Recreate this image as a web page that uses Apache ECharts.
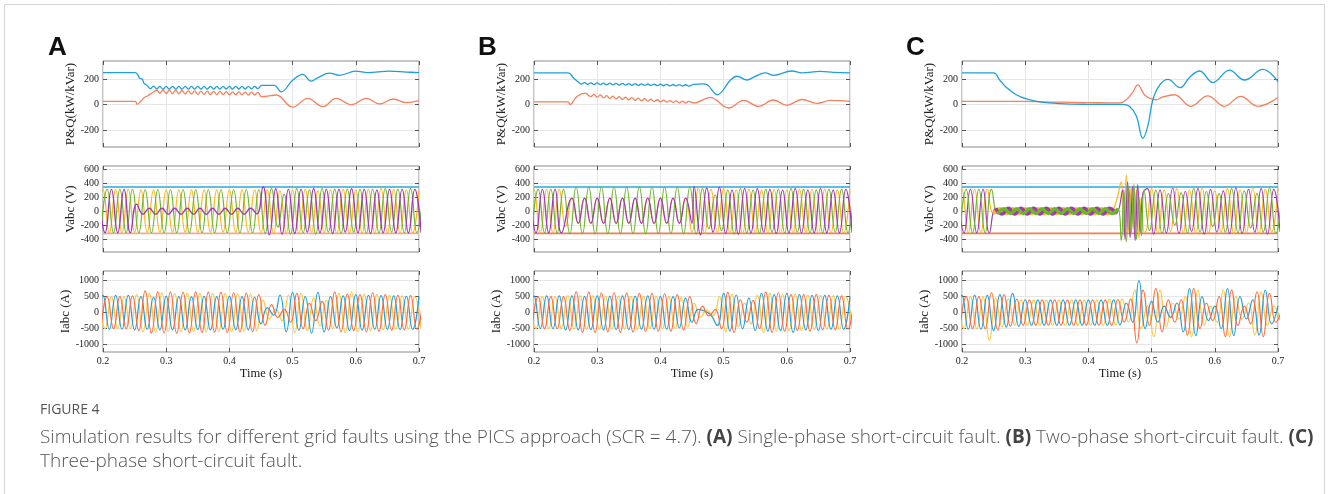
<!DOCTYPE html>
<html><head><meta charset="utf-8">
<script src="https://cdn.jsdelivr.net/npm/echarts@6/dist/echarts.min.js"></script>
<style>html,body{margin:0;padding:0;background:#fff}#c{width:1328px;height:494px}</style>
</head><body><div id="c"></div><script>
// ---------- axis / tick data ----------
const timeTicks = ['0.2','0.3','0.4','0.5','0.6','0.7'];
const pqTicks = [-200, 0, 200];
const vTicks = [-400, -200, 0, 200, 400, 600];
const iTicks = [-1000, -500, 0, 500, 1000];
const panelLetters = ['A', 'B', 'C'];
const yNames = ['P&Q(kW/kVar)', 'Vabc (V)', 'Iabc (A)'];

// grid start times of the three phase sequences (half-period spacing 0.01 s)
const PH1_T0 = 0.19, PH2_T0 = 0.19667, PH3_T0 = 0.19333;
const HALF = 0.01, RIP = 0.005, CHAT = 0.004;

// ---------- P & Q (kW / kVar) ----------
const pA_head = [[0.2,249],[0.251,249],[0.255,232],[0.258,205],[0.262,200],[0.265,166],[0.27,150]];
const pA_ripple = [125,145,122,143,120,142,121,143,121,142,120,143,121,142,121,143,121,142,121,143,121,142,121,143,122,142,121,143,122,142,122,143,123,142,125];
const pA_tail = [[0.451,150],[0.471,150],[0.482,100],[0.5,190],[0.516,236],[0.529,183],[0.542,215],[0.558,246],[0.574,228],[0.6,261],[0.619,249],[0.653,261],[0.68,254],[0.7,249]];
const qA_head = [[0.2,26],[0.251,26],[0.254,2],[0.261,33],[0.266,57],[0.272,72],[0.279,95]];
const qA_ripple = [112,88,114,86,113,85,112,84,110,83,108,82,107,80,106,80,105,79,104,78,103,78,102,77,100,77,99,76,98,75,97,75,95];
const qA_tail = [[0.451,62],[0.474,75],[0.5,-20],[0.524,49],[0.548,-16],[0.569,49],[0.593,0],[0.617,49],[0.638,5],[0.659,44],[0.68,15],[0.7,31]];

const pB_head = [[0.2,248],[0.254,248],[0.263,205],[0.271,172]];
const pB_ripple = [160,172,158,170,157,169,156,168,155,167,154,166,153,165,152,164,151,163,150,162,150,161,149,160,148,159,147,158,146,157,146,156,145,155,145];
const pB_tail = [[0.453,158],[0.466,162],[0.474,155],[0.49,77],[0.511,192],[0.521,221],[0.537,192],[0.55,221],[0.566,248],[0.579,228],[0.608,262],[0.624,248],[0.653,259],[0.674,252],[0.7,248]];
const qB_head = [[0.2,21],[0.254,21],[0.257,0],[0.268,64],[0.282,90]];
const qB_ripple = [78,62,80,58,75,52,70,48,66,45,62,40,58,37,54,34,50,30,46,27,42,24,38,22,35,19,32,17,30,14,28,12,25];
const qB_tail = [[0.453,13],[0.479,56],[0.508,-26],[0.532,33],[0.555,-13],[0.579,36],[0.6,-5],[0.624,40],[0.648,10],[0.669,33],[0.7,25]];

const pC = [[0.2,248],[0.25,248],[0.2596,192],[0.27,136],[0.286,77],[0.302,44],[0.323,21],[0.354,8],[0.396,3],[0.454,2],[0.465,-13],[0.476,-90],[0.486,-262],[0.494,-167],[0.502,38],[0.513,154],[0.526,197],[0.545,133],[0.561,218],[0.576,262],[0.597,172],[0.623,269],[0.647,192],[0.676,274],[0.7,179]];
const qC = [[0.2,26],[0.3,25],[0.35,20],[0.4,16],[0.45,13],[0.46,38],[0.47,95],[0.478,154],[0.4886,77],[0.4966,51],[0.507,38],[0.517,59],[0.536,77],[0.562,-13],[0.589,69],[0.615,-13],[0.641,64],[0.668,-13],[0.7,56]];

// ---------- voltages (V): successive half-cycle extremes ----------
const vLimHi = 345, vLimLo = -318;
const vA_1 = [-310,310,-310,310,-310,310, -300,300,-300,300,-300,300,-300,300,-300,300,-300,300,-300,300,-300,300,-300,300,-300,300, -310,300,-320,290,-310,300,-320,310,-300,290,-310,300,-320,310,-310,300,-310,310,-310,320,-310,310,-310,300,-310,310];
const vA_2 = [-310,310,-310,310,-310,310, -310,305,-310,305,-310,305,-310,305,-310,305,-310,305,-310,305,-310,305,-310,305,-310,305, -320,320,-230,240,-330,320,-310,300,-330,320,-300,310,-320,310,-300,310,-320,310,-310,320,-300,310,-310,320,-310,310];
const vA_3 = [310,-310,310,-310,310,-310, 100,-45,40,-45,40,-45,40,-45,40,-45,40,-45,40,-45,40,-45,40,-45,40,-40, 350,-340,320,-330,310,-320,310,-300,320,-310,310,-320,310,-300,320,-310,310,-320,300,-310,310,-310,310,-310,310,-310];

const vB_1 = [-310,310,-310,310,-310,310, -220,185,-175,185,-175,185,-175,185,-175,185,-175,185,-175,185,-175,185,-175,185,-175,185, -300,330,-320,310,-300,320,-310,300,-320,310,-310,300,-310,310,-320,300,-310,310,-300,310,-320,310,-310,300,-310,310];
const vB_2 = [-310,310,-310,310,-310,310, -325,345,-325,345,-325,345,-325,345,-325,345,-325,345,-325,345,-325,345,-325,345,-325,345, -330,320,-250,230,-280,300,-330,320,-310,300,-320,310,-300,310,-310,320,-300,310,-310,300,-310,310,-300,310,-310,310];
const vB_3_pre = [310,-310,310,-310,310,-310];
const vB_3_fault_t0 = 0.26;
const vB_3_fault = [185,-175,185,-175,185,-175,185,-175,185,-175,185,-175,185,-175,185,-175,185,-175,185,-175];
const vB_3_post_t0 = 0.45333;
const vB_3_post = [350,-340,330,-300,340,-320,300,-330,320,-310,320,-300,310,-320,300,-310,320,-310,300,-310,320,-310,300,-310,310,-310];

const vC_1_pre = [-310,310,-310,310,-310,310];
const vC_1_fault_t0 = 0.25;
const vC_1_fault = [-40,35,-35,35,-35,35,-35,35,-35,35,-35,35,-35,35,-35,35,-35,35,-35,35];
const vC_1_chat_t0 = 0.452;
const vC_1_chat = [420,-350,520,-300,350,-250,300,-380,200,-300];
const vC_1_post_t0 = 0.49;
const vC_1_post = [-300,320,-310,300,-290,320,-310,300,-320,330,-310,290,-300,320,-320,300,-310,330,-320,310,-300,320];
const vC_2_pre = [-310,310,-310,310,-310,310];
const vC_2_fault_t0 = 0.25667;
const vC_2_fault = [-40,35,-35,35,-35,35,-35,35,-35,35,-35,35,-35,35,-35,35,-35,35,-35,35];
const vC_2_chat_t0 = 0.452;
const vC_2_chat = [-420,300,-440,350,-300,380,-400,200,-350,300];
const vC_2_post_t0 = 0.49667;
const vC_2_post = [-280,300,-320,250,-200,260,-310,320,-300,280,-220,250,-300,320,-310,290,-240,250,-300,330,-320,300];
const vC_3_pre = [310,-310,310,-310,310,-310];
const vC_3_fault_t0 = 0.25333;
const vC_3_fault = [40,-40,40,-40,40,-40,40,-40,40,-40,40,-40,40,-40,40,-40,40,-40,40,-40];
const vC_3_chat_t0 = 0.454;
const vC_3_chat = [300,-400,420,-380,350,-420,380,-300,250];
const vC_3_post_t0 = 0.49333;
const vC_3_post = [320,-330,300,-310,330,-320,280,-290,320,-330,310,-300,290,-320,330,-320,310,-300,320,-330,310,-300];

// ---------- currents (A): successive half-cycle extremes ----------
const iA_1 = [-520,540,-520,540,-520,540, -540,500,-520,480,-540,510,-530,500,-540,490,-530,510,-540,500,-520,510,-530,500,-540,480, -350,150,-80,550,-600,630,-550,500,-640,630,-600,500,-480,520,-560,560,-550,540,-520,530,-520,520,-530,510,-520,500];
const iA_2 = [-500,500,-500,500,-500,520, -560,680,-640,650,-630,640,-650,630,-630,650,-620,640,-610,630,-620,620,-600,610,-600,560, -400,250,-150,100,-300,600,-500,300,-250,350,-550,640,-600,580,-560,560,-600,620,-580,560,-550,540,-540,530,-520,510];
const iA_3 = [500,-500,500,-500,500,-500, 560,-600,600,-600,620,-590,600,-600,610,-590,600,-600,600,-590,600,-590,590,-580,580,-560, 380,-200,100,-250,550,-620,600,-560,450,-420,380,-500,600,-620,640,-600,580,-560,560,-540,540,-520,520,-510,500,-500];

const iB_1 = [-500,520,-500,520,-500,520, -540,520,-540,500,-530,520,-540,510,-530,520,-530,510,-520,520,-520,500,-520,500,-480,450, -300,100,50,-80,-400,600,-580,550,-500,450,-560,600,-580,560,-560,600,-620,560,-540,540,-560,540,-520,520,-520,500];
const iB_2 = [-500,500,-500,500,-500,500, -560,650,-620,640,-620,620,-600,620,-620,610,-600,600,-590,600,-580,590,-580,560,-540,500, -350,200,-100,100,-500,630,-620,400,-300,380,-500,640,-620,620,-580,560,-560,560,-580,560,-540,540,-530,520,-520,500];
const iB_3 = [500,-500,500,-500,500,-500, 520,-520,520,-520,520,-520,510,-510,510,-510,510,-520,510,-500,500,-500,500,-500,480,-450, 300,-150,80,-100,500,-600,580,-450,300,-350,550,-620,600,-580,560,-560,580,-560,540,-540,540,-520,520,-520,500,-500];

const iC_1 = [-520,540,-520,540,-520,540, -560,560,-450,600,-430,410,-400,400,-400,400,-400,400,-400,400,-400,400,-400,400,-400,400, -380,300,-300,1000,-500,350,-300,200,-150,300,-600,750,-720,500,-250,200,-500,750,-720,500,-200,400,-700,700,-350,200];
const iC_2 = [-500,500,-500,500,-500,620, -550,560,-420,420,-400,400,-400,400,-400,400,-400,400,-400,400,-400,400,-400,400,-400,410, -300,420,-950,700,-400,750,-600,400,-300,400,-700,750,-500,300,-250,500,-750,700,-400,200,-350,650,-750,600,-300,150];
const iC_3 = [500,-500,500,-500,500,-870, 450,-450,430,-400,400,-400,400,-400,400,-400,400,-400,400,-400,400,-400,400,-400,420,-380, 420,-300,700,-500,200,-750,700,-450,300,-200,500,-750,700,-400,200,-300,700,-750,500,-200,300,-700,650,-400,200,-250];

// ---------- helpers ----------
function wave(t0, vals, step) {
  step = step || HALF;
  return vals.map((v, i) => [+(t0 + i * step).toFixed(5), v]);
}
function concat() { return [].concat.apply([], arguments); }

const COL = {
  p: '#1e9fd9', q: '#f4825e',
  vO: '#ffb31f', vG: '#6cb52d', vP: '#a13ab0',
  limHi: '#2aa8df', limLo: '#f47c52', limLoA: '#f6a98e',
  iB: '#1b9fdb', iR: '#ff6a3e', iY: '#ffc43c'
};

const colsLeft = [103, 534, 962];
const plotW = 316;
const rows = [{top: 61, h: 86}, {top: 166, h: 86}, {top: 271, h: 81}];
const yRanges = [[-330, 340], [-585, 645], [-1230, 1300]];
const yTicks = [pqTicks, vTicks, iTicks];
const SERIF = '"Liberation Serif", "DejaVu Serif", serif';

const grids = [], xAxes = [], yAxes = [], series = [];
for (let r = 0; r < 3; r++) {
  for (let c = 0; c < 3; c++) {
    grids.push({left: colsLeft[c], top: rows[r].top, width: plotW, height: rows[r].h,
      show: true, borderColor: '#8a8a8a', borderWidth: 1, backgroundColor: 'transparent'});
  }
}
for (let gi = 0; gi < 9; gi++) {
  const r = Math.floor(gi / 3);
  xAxes.push({
    gridIndex: gi, type: 'value', min: 0.2, max: 0.7, interval: 0.1, position: 'bottom',
    axisLine: {show: false, onZero: false},
    axisTick: {show: true, inside: true, length: 4, lineStyle: {color: '#555'}},
    axisLabel: {show: r === 2, fontFamily: SERIF, fontSize: 10, color: '#222', margin: 4,
      formatter: (v) => timeTicks[Math.round((v - 0.2) * 10)] || ''},
    splitLine: {show: true, lineStyle: {color: '#e6e6e6', width: 1}},
    name: r === 2 ? 'Time (s)' : '', nameLocation: 'middle', nameGap: 12,
    nameTextStyle: {fontFamily: SERIF, fontSize: 12.5, color: '#222'}
  });
  yAxes.push({
    gridIndex: gi, type: 'value', min: yRanges[r][0], max: yRanges[r][1],
    axisLine: {show: false, onZero: false},
    axisTick: {show: true, inside: true, length: 4, lineStyle: {color: '#555'}, customValues: yTicks[r]},
    axisLabel: {fontFamily: SERIF, fontSize: 10, color: '#222', margin: 4, customValues: yTicks[r],
      formatter: (v) => String(Math.round(v))},
    splitLine: {show: true, lineStyle: {color: '#e6e6e6', width: 1}},
    name: yNames[r], nameLocation: 'middle', nameGap: 14,
    nameTextStyle: {fontFamily: SERIF, fontSize: 13, color: '#222'}
  });
}
// mirrored box ticks (top / right)
for (let gi = 0; gi < 9; gi++) {
  const r = Math.floor(gi / 3);
  xAxes.push({gridIndex: gi, type: 'value', min: 0.2, max: 0.7, interval: 0.1, position: 'top',
    axisLine: {show: false, onZero: false}, axisLabel: {show: false}, splitLine: {show: false},
    axisTick: {show: true, inside: true, length: 4, lineStyle: {color: '#555'}}});
  yAxes.push({gridIndex: gi, type: 'value', min: yRanges[r][0], max: yRanges[r][1], position: 'right',
    axisLine: {show: false, onZero: false}, axisLabel: {show: false, customValues: yTicks[r]}, splitLine: {show: false},
    axisTick: {show: true, inside: true, length: 4, lineStyle: {color: '#555'}, customValues: yTicks[r]}});
}

function ln(gi, data, color, width, smooth, z) {
  return {type: 'line', xAxisIndex: gi, yAxisIndex: gi, data: data, symbol: 'none', showSymbol: false,
    smooth: smooth, lineStyle: {color: color, width: width}, itemStyle: {color: color},
    z: z || 2, animation: false, silent: true, clip: true};
}
function flat(gi, v, color) { return ln(gi, [[0.2, v], [0.7, v]], color, 1.6, false, 1); }

// row 0: P & Q
series.push(ln(0, concat(qA_head, wave(0.285, qA_ripple, RIP), qA_tail), COL.q, 1.3, 0.4));
series.push(ln(0, concat(pA_head, wave(0.275, pA_ripple, RIP), pA_tail), COL.p, 1.3, 0.4));
series.push(ln(1, concat(qB_head, wave(0.285, qB_ripple, RIP), qB_tail), COL.q, 1.3, 0.4));
series.push(ln(1, concat(pB_head, wave(0.275, pB_ripple, RIP), pB_tail), COL.p, 1.3, 0.4));
series.push(ln(2, qC, COL.q, 1.3, 0.4));
series.push(ln(2, pC, COL.p, 1.3, 0.4));

// row 1: voltages
series.push(flat(3, vLimHi, COL.limHi)); series.push(flat(3, vLimLo, COL.limLoA));
series.push(ln(3, wave(PH1_T0, vA_1), COL.vO, 1.2, 0.5));
series.push(ln(3, wave(PH2_T0, vA_2), COL.vG, 1.2, 0.5));
series.push(ln(3, wave(PH3_T0, vA_3), COL.vP, 1.4, 0.5, 3));

series.push(flat(4, vLimHi, COL.limHi)); series.push(flat(4, vLimLo, COL.limLo));
series.push(ln(4, wave(PH1_T0, vB_1), COL.vO, 1.2, 0.5));
series.push(ln(4, wave(PH2_T0, vB_2), COL.vG, 1.2, 0.5));
series.push(ln(4, concat(wave(PH3_T0, vB_3_pre), wave(vB_3_fault_t0, vB_3_fault), wave(vB_3_post_t0, vB_3_post)), COL.vP, 1.3, 0.5, 3));

series.push(flat(5, vLimHi, COL.limHi)); series.push(flat(5, vLimLo, COL.limLo));
series.push(ln(5, concat(wave(PH1_T0, vC_1_pre), wave(vC_1_fault_t0, vC_1_fault), wave(vC_1_chat_t0, vC_1_chat, CHAT), wave(vC_1_post_t0, vC_1_post)), COL.vO, 1.2, 0.5));
series.push(ln(5, concat(wave(PH3_T0, vC_3_pre), wave(vC_3_fault_t0, vC_3_fault), wave(vC_3_chat_t0, vC_3_chat, CHAT), wave(vC_3_post_t0, vC_3_post)), COL.vP, 1.2, 0.5));
series.push(ln(5, concat(wave(PH2_T0, vC_2_pre), wave(vC_2_fault_t0, vC_2_fault), wave(vC_2_chat_t0, vC_2_chat, CHAT), wave(vC_2_post_t0, vC_2_post)), COL.vG, 1.2, 0.5));
series.push(ln(5, wave(vC_1_fault_t0, vC_1_fault), COL.vO, 3.5, 0.5, 3));
series.push(ln(5, wave(vC_3_fault_t0, vC_3_fault), COL.vP, 3.5, 0.5, 3));
series.push(ln(5, wave(vC_2_fault_t0, vC_2_fault), COL.vG, 3.5, 0.5, 3));

// row 2: currents
[[6, iA_1, iA_2, iA_3], [7, iB_1, iB_2, iB_3], [8, iC_1, iC_2, iC_3]].forEach(function (s) {
  series.push(ln(s[0], wave(PH3_T0, s[3]), COL.iY, 1.2, 0.5));
  series.push(ln(s[0], wave(PH1_T0, s[1]), COL.iB, 1.2, 0.5));
  series.push(ln(s[0], wave(PH2_T0, s[2]), COL.iR, 1.2, 0.5));
});

const SANS = '"Open Sans", "Noto Sans", sans-serif';
const graphic = [
  {type: 'rect', shape: {x: 4.5, y: 4.5, width: 1320, height: 520}, style: {fill: 'none', stroke: '#d4d4d4', lineWidth: 1}, silent: true},
  {type: 'text', left: 48, top: 35, style: {text: panelLetters[0], font: 'bold 26px "Liberation Sans", Arial, sans-serif', fill: '#111'}},
  {type: 'text', left: 478, top: 35, style: {text: panelLetters[1], font: 'bold 26px "Liberation Sans", Arial, sans-serif', fill: '#111'}},
  {type: 'text', left: 906, top: 35, style: {text: panelLetters[2], font: 'bold 26px "Liberation Sans", Arial, sans-serif', fill: '#111'}},
  {type: 'text', left: 40, top: 403, style: {text: 'FIGURE 4', font: '14px ' + SANS, fill: '#555'}},
  {type: 'text', left: 40, top: 428, style: {
    text: '{n|Simulation results for different grid faults using the PICS approach (SCR = 4.7). }{b|(A)}{n| Single-phase short-circuit fault. }{b|(B)}{n| Two-phase short-circuit fault. }{b|(C)}',
    rich: {n: {font: '300 19px ' + SANS, fill: '#555'}, b: {font: 'bold 19px ' + SANS, fill: '#444'}}}},
  {type: 'text', left: 40, top: 452, style: {text: 'Three-phase short-circuit fault.', font: '300 19px ' + SANS, fill: '#555'}}
];

const chart = echarts.init(document.getElementById('c'), null, {renderer: 'canvas'});
chart.setOption({animation: false, backgroundColor: '#fff', grid: grids, xAxis: xAxes, yAxis: yAxes, series: series, graphic: graphic});
</script></body></html>
